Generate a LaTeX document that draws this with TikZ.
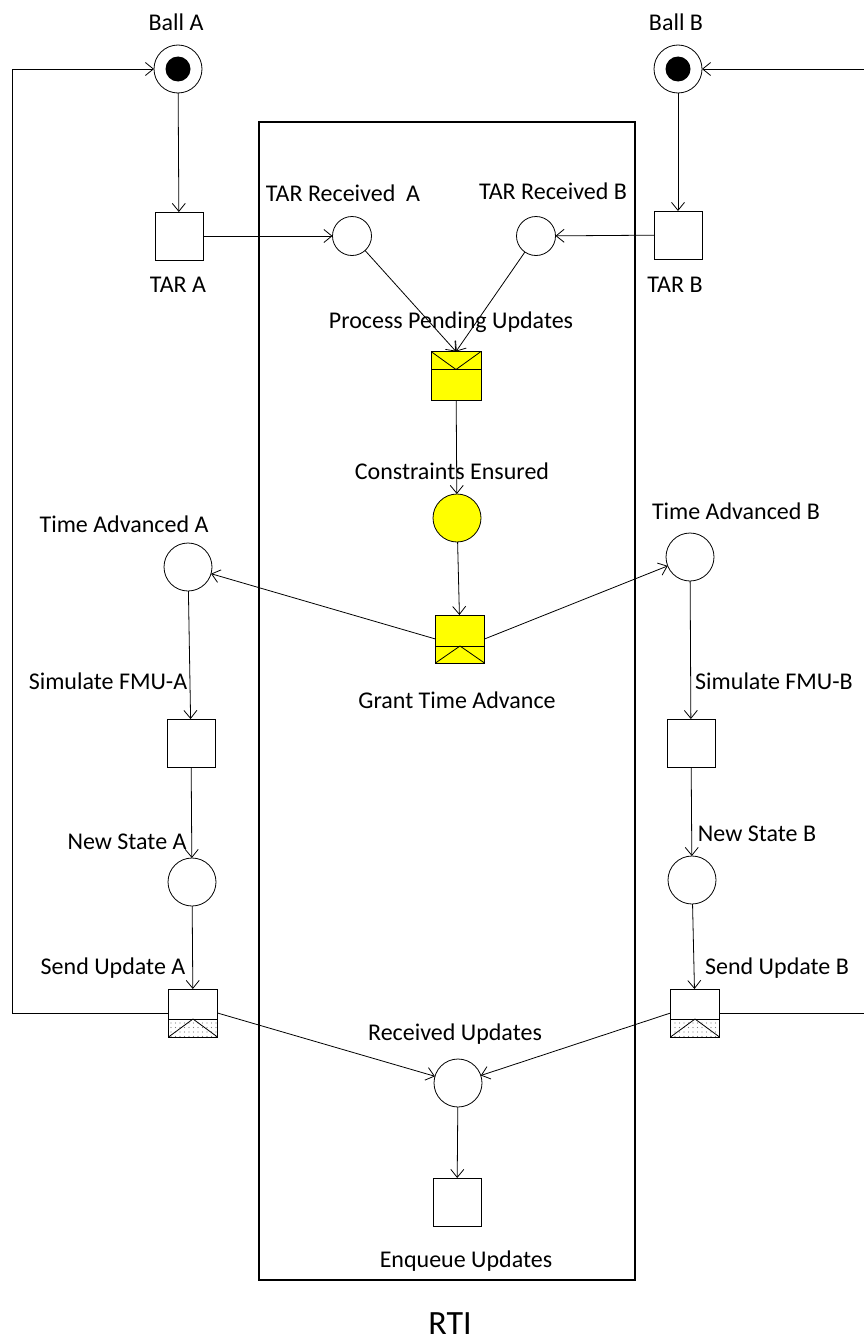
\documentclass[tikz,border=0pt]{standalone}
\usepackage{fontspec}
\setmainfont{Carlito}
\usetikzlibrary{arrows.meta,patterns.meta,calc}
\definecolor{yel}{RGB}{255,255,0}
\begin{document}
\begin{tikzpicture}[x=1pt,y=-1pt,
  every node/.style={inner sep=0pt, outer sep=0pt},
  place/.style={circle,draw,line width=0.8pt,minimum size=48pt},
  smallplace/.style={circle,draw,line width=0.8pt,minimum size=39pt},
  trans/.style={rectangle,draw,line width=0.8pt,minimum width=48pt,minimum height=48pt},
  envtop/.style={trans,fill=yel,minimum width=50pt,minimum height=49pt,path picture={
    \draw[line width=0.8pt] ([yshift=-18pt]path picture bounding box.north west) -- ([yshift=-18pt]path picture bounding box.north east);
    \draw[line width=0.8pt] (path picture bounding box.north west) -- ([yshift=-18pt]path picture bounding box.north) -- (path picture bounding box.north east);}},
  envbot/.style={trans,fill=yel,minimum width=49pt,minimum height=48pt,path picture={
    \draw[line width=0.8pt] ([yshift=17pt]path picture bounding box.south west) -- ([yshift=17pt]path picture bounding box.south east);
    \draw[line width=0.8pt] (path picture bounding box.south west) -- ([yshift=17pt]path picture bounding box.south) -- (path picture bounding box.south east);}},
  sendbox/.style={trans,minimum width=49pt,minimum height=48pt,path picture={
    \fill[pattern={Dots[distance=4.5pt,radius=0.6pt]},pattern color=gray] (path picture bounding box.south west) rectangle ([yshift=18pt]path picture bounding box.south east);
    \draw[line width=0.8pt] ([yshift=18pt]path picture bounding box.south west) -- ([yshift=18pt]path picture bounding box.south east);
    \draw[line width=0.8pt] (path picture bounding box.south west) -- ([yshift=18pt]path picture bounding box.south) -- (path picture bounding box.south east);}},
  lbl/.style={font=\fontsize{24}{28}\selectfont},
  arc/.style={line width=0.8pt,-{Straight Barb[length=8pt,width=13pt]}},
]
\useasboundingbox (0,0) rectangle (863,1338);

% RTI box
\node[draw,line width=2.6pt,minimum width=376pt,minimum height=1158pt] (rti) at (447,701) {};
\node[font=\fontsize{34}{40}\selectfont,anchor=base] (rtilbl) at (450,1334) {RTI};

% places
\node[place] (balla) at (178,69) {};
\fill (balla.center) circle (12.5);
\node[place] (ballb) at (678,69) {};
\fill (ballb.center) circle (12.5);
\node[smallplace] (tra) at (352,236) {};
\node[smallplace] (trb) at (536,236) {};
\node[place,fill=yel] (ce) at (457,518) {};
\node[place] (taa) at (188,567) {};
\node[place] (tab) at (690,557) {};
\node[place] (nsa) at (192,882) {};
\node[place] (nsb) at (692,880) {};
\node[place] (ru) at (458,1083) {};

% transitions
\node[trans] (tara) at (179,236) {};
\node[trans] (tarb) at (678,235) {};
\node[envtop] (ppu) at (456,376) {};
\node[envbot] (gta) at (460,639) {};
\node[trans] (sfa) at (191,743) {};
\node[trans] (sfb) at (691,743) {};
\node[sendbox] (sua) at (193,1013) {};
\node[sendbox] (sub) at (695,1013) {};
\node[trans] (eu) at (457,1202) {};

% labels
\node[lbl] (lballa) at (176,22) {Ball A};
\node[lbl] (lballb) at (676,22) {Ball B};
\node[lbl] (ltra) at (343,193) {TAR Received\ \ A};
\node[lbl] (ltrb) at (553,191) {TAR Received B};
\node[lbl] (ltara) at (178,285) {TAR A};
\node[lbl] (ltarb) at (675,285) {TAR B};
\node[lbl] (lppu) at (451,322) {Process Pending Updates};
\node[lbl] (lce) at (452,471) {Constraints Ensured};
\node[lbl] (ltaa) at (124,524) {Time Advanced A};
\node[lbl] (ltab) at (736,511) {Time Advanced B};
\node[lbl] (lgta) at (457,700) {Grant Time Advance};
\node[lbl] (lsfa) at (108,681) {Simulate FMU-A};
\node[lbl] (lsfb) at (774,681) {Simulate FMU-B};
\node[lbl] (lnsa) at (127,842) {New State A};
\node[lbl] (lnsb) at (757,834) {New State B};
\node[lbl] (lsua) at (113,968) {Send Update A};
\node[lbl] (lsub) at (777,968) {Send Update B};
\node[lbl] (lru) at (455,1034) {Received Updates};
\node[lbl] (leu) at (466,1261) {Enqueue Updates};

% arcs
\draw[arc] (balla) -- (tara);
\draw[arc] (ballb) -- (tarb);
\draw[arc] (tara) -- (tra);
\draw[arc] (tarb) -- (trb);
\draw[arc] (tra) -- (ppu.north);
\draw[arc] (trb) -- (ppu.north);
\draw[arc] (ppu) -- (ce);
\draw[arc] (ce) -- (gta);
\draw[arc] (gta.west) -- (taa);
\draw[arc] (gta.east) -- (tab);
\draw[arc] (taa) -- (sfa);
\draw[arc] (tab) -- (sfb);
\draw[arc] (sfa) -- (nsa);
\draw[arc] (sfb) -- (nsb);
\draw[arc] (nsa) -- (sua);
\draw[arc] (nsb) -- (sub);
\draw[arc] (sua.east) -- (ru);
\draw[arc] (sub.west) -- (ru);
\draw[arc] (ru) -- (eu);

% feedback loops
\coordinate (lc) at (12,1013);
\coordinate (rc) at (866,1013);
\draw[arc] (sua.west) -- (lc) |- (balla.west);
\draw[arc] (sub.east) -- (rc) |- (ballb.east);
\end{tikzpicture}
\end{document}
